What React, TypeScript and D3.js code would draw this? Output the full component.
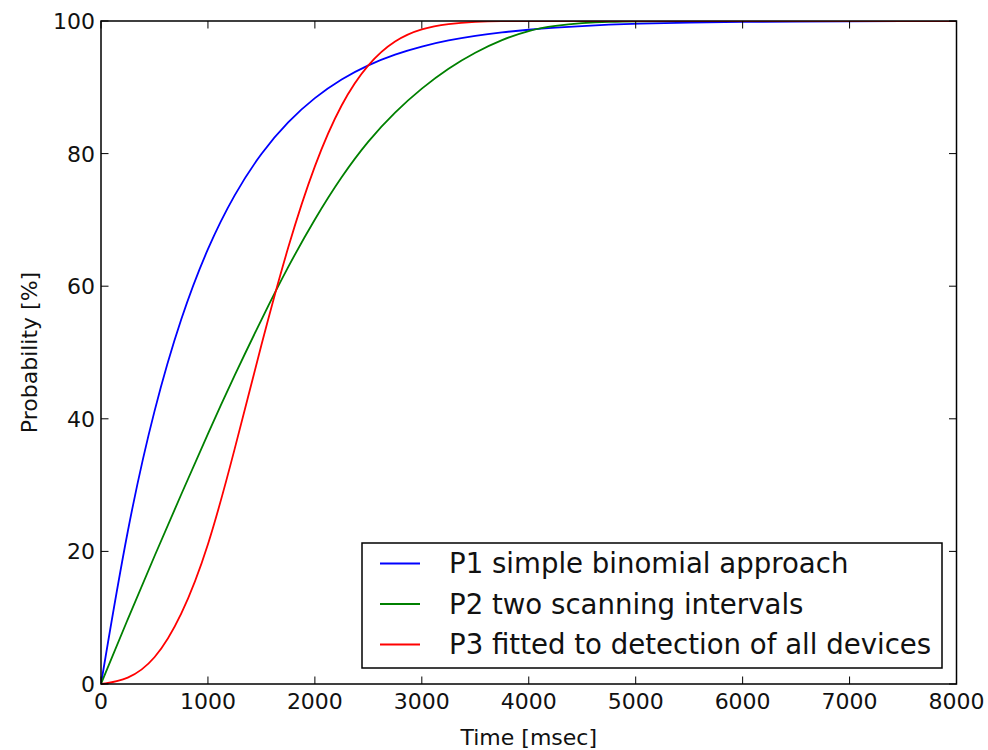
import React from "react";
import * as d3 from "d3";

const times = [0, 250, 500, 750, 1000, 1250, 1500, 1750, 2000, 2250, 2500, 2750, 3000, 3250, 3500, 3750, 4000, 4250, 4500, 4750, 5000, 5500, 6000, 6500, 7000, 7500, 8000];
const p1Values = [0, 24.0, 41.8, 55.5, 66.0, 74.0, 80.2, 84.9, 88.5, 91.3, 93.4, 95.0, 96.2, 97.1, 97.8, 98.3, 98.7, 99.0, 99.25, 99.45, 99.6, 99.75, 99.87, 99.93, 99.96, 99.98, 99.99];
const p2Values = [0, 9.8, 19.3, 28.6, 37.8, 46.6, 55.0, 63.0, 70.2, 76.6, 82.0, 86.3, 89.9, 92.9, 95.3, 97.2, 98.6, 99.3, 99.7, 99.9, 99.97, 100, 100, 100, 100, 100, 100];
const p3Values = [0, 0.6, 3.4, 10.0, 20.3, 35.3, 51.3, 66.2, 78.6, 87.8, 93.7, 97.2, 98.9, 99.6, 99.9, 100, 100, 100, 100, 100, 100, 100, 100, 100, 100, 100, 100];

const seriesNames = ["P1 simple binomial approach", "P2 two scanning intervals", "P3 fitted to detection of all devices"];
const seriesColors = ["#0000ff", "#008000", "#ff0000"];
const xTicks = [0, 1000, 2000, 3000, 4000, 5000, 6000, 7000, 8000];
const yTicks = [0, 20, 40, 60, 80, 100];
const xLabel = "Time [msec]";
const yLabel = "Probability [%]";

const W = 988, H = 750;
const L = 101, R = 956.5, T = 21, B = 684;
const FONT = "DejaVu Sans, sans-serif";

export default function App() {
  const x = d3.scaleLinear().domain([0, 8000]).range([L, R]);
  const y = d3.scaleLinear().domain([0, 100]).range([B, T]);
  const allSeries = [p1Values, p2Values, p3Values];
  const line = d3
    .line<number>()
    .x((_, i) => x(times[i]))
    .y((d) => y(d))
    .curve(d3.curveBasis);

  const tickLen = 7.5;
  const legX = 362, legY = 543, legW = 580, legH = 125;
  const rowH = 40.5;

  return (
    <svg width={W} height={H} style={{ position: "absolute", left: 0, top: 0, background: "#fff" }}>
      <rect x={0} y={0} width={W} height={H} fill="#fff" />
      <defs>
        <clipPath id="plot">
          <rect x={L} y={T} width={R - L} height={B - T + 2} />
        </clipPath>
      </defs>
      <g clipPath="url(#plot)">
        {allSeries.map((s, i) => (
          <path key={i} d={line(s) || ""} fill="none" stroke={seriesColors[i]} strokeWidth={1.8} />
        ))}
      </g>
      {xTicks.map((t) => (
        <g key={"x" + t}>
          <line x1={x(t)} x2={x(t)} y1={B} y2={B - tickLen} stroke="#000" strokeWidth={1} />
          <line x1={x(t)} x2={x(t)} y1={T} y2={T + tickLen} stroke="#000" strokeWidth={1} />
          <text x={x(t)} y={B + 25} textAnchor="middle" fontFamily={FONT} fontSize={22} fill="#111">
            {t}
          </text>
        </g>
      ))}
      {yTicks.map((t) => (
        <g key={"y" + t}>
          <line x1={L} x2={L + tickLen} y1={y(t)} y2={y(t)} stroke="#000" strokeWidth={1} />
          <line x1={R} x2={R - tickLen} y1={y(t)} y2={y(t)} stroke="#000" strokeWidth={1} />
          <text x={L - 6} y={y(t) + 8} textAnchor="end" fontFamily={FONT} fontSize={22} fill="#111">
            {t}
          </text>
        </g>
      ))}
      <rect x={L} y={T} width={R - L} height={B - T} fill="none" stroke="#000" strokeWidth={1.5} />
      <text x={(L + R) / 2} y={745} textAnchor="middle" fontFamily={FONT} fontSize={22} fill="#111">
        {xLabel}
      </text>
      <text
        transform={`translate(37, ${(T + B) / 2}) rotate(-90)`}
        textAnchor="middle"
        fontFamily={FONT}
        fontSize={22}
        fill="#111"
      >
        {yLabel}
      </text>
      <rect x={legX} y={legY} width={legW} height={legH} fill="#fff" stroke="#000" strokeWidth={1.5} />
      {seriesNames.map((n, i) => (
        <g key={n}>
          <line
            x1={legX + 18}
            x2={legX + 58}
            y1={legY + 20.5 + i * rowH}
            y2={legY + 20.5 + i * rowH}
            stroke={seriesColors[i]}
            strokeWidth={1.8}
          />
          <text x={legX + 87} y={legY + 30 + i * rowH} fontFamily={FONT} fontSize={27.6} fill="#111">
            {n}
          </text>
        </g>
      ))}
    </svg>
  );
}
